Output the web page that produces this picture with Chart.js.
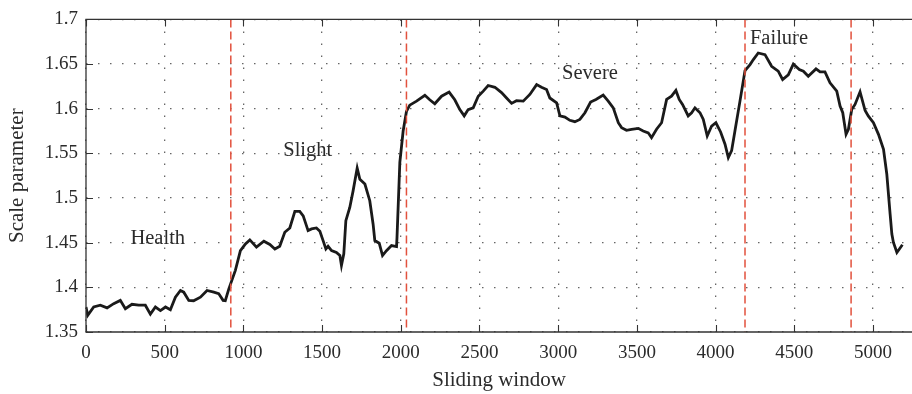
<!DOCTYPE html>
<html>
<head>
<meta charset="utf-8">
<script src="https://cdn.jsdelivr.net/npm/chart.js@4.4.1/dist/chart.umd.min.js"></script>
<style>
  html, body { margin: 0; padding: 0; background: #fff; }
  #wrap { width: 912px; height: 394px; }
</style>
</head>
<body>
<div id="wrap"><canvas id="chart" width="912" height="394"></canvas></div>
<script>
// Sliding-window index and the fitted scale parameter at each window
const windowIndex = [
  0, 11, 49, 91, 134, 176, 218, 250, 292, 335, 377, 409, 441, 473, 505, 536,
  568, 600, 621, 653, 684, 727, 769, 812, 843, 871, 885, 907, 949, 981, 1013,
  1041, 1083, 1130, 1168, 1200, 1231, 1263, 1295, 1327, 1358, 1380, 1411, 1433,
  1464, 1486, 1507, 1524, 1538, 1560, 1591, 1613, 1623, 1638, 1651, 1676, 1697,
  1723, 1740, 1772, 1803, 1824, 1835, 1863, 1884, 1909, 1941, 1973, 1976, 1994,
  2015, 2036, 2057, 2100, 2153, 2184, 2216, 2259, 2307, 2343, 2375, 2403, 2428,
  2460, 2492, 2524, 2555, 2598, 2640, 2672, 2704, 2735, 2778, 2820, 2863, 2894,
  2926, 2947, 2990, 3011, 3043, 3074, 3106, 3138, 3170, 3206, 3240, 3286, 3318,
  3350, 3382, 3403, 3434, 3466, 3509, 3540, 3572, 3593, 3625, 3657, 3689, 3720,
  3748, 3769, 3790, 3826, 3848, 3869, 3901, 3922, 3947, 3975, 4002, 4032, 4060,
  4081, 4102, 4123, 4155, 4187, 4219, 4240, 4271, 4314, 4356, 4398, 4426, 4462,
  4494, 4532, 4558, 4589, 4638, 4664, 4695, 4727, 4770, 4791, 4808, 4829, 4844,
  4865, 4886, 4918, 4950, 4971, 5003, 5035, 5067, 5088, 5109, 5120, 5130, 5152,
  5168, 5187
];
const scaleParam = [
  1.378, 1.3686, 1.378, 1.380, 1.377, 1.3817, 1.3854, 1.376, 1.381, 1.380, 1.380,
  1.370, 1.378, 1.374, 1.378, 1.375, 1.389, 1.3965, 1.3946, 1.3854, 1.385, 1.389,
  1.3965, 1.3946, 1.393, 1.3854, 1.385, 1.398, 1.419, 1.441, 1.4486,
  1.4531, 1.445, 1.4516, 1.448, 1.443, 1.446, 1.4617, 1.4665, 1.485, 1.485, 1.480,
  1.4635, 1.4654, 1.4665, 1.4628, 1.452, 1.443, 1.446, 1.4412, 1.439, 1.4356,
  1.4245, 1.4375, 1.4747, 1.4895, 1.508, 1.5335, 1.521, 1.5156, 1.497, 1.471,
  1.4524, 1.4494, 1.4356, 1.441, 1.4468, 1.4457, 1.456, 1.540,
  1.575, 1.597, 1.604, 1.6085, 1.615, 1.610, 1.6055, 1.614, 1.6186, 1.610, 1.599,
  1.592, 1.599, 1.601, 1.614, 1.6197, 1.626, 1.624, 1.618, 1.612, 1.606, 1.609,
  1.6085, 1.616, 1.627, 1.624, 1.6215, 1.612, 1.6067, 1.592, 1.5907, 1.587,
  1.5855, 1.588, 1.5955, 1.6075, 1.6104, 1.6152, 1.6085,
  1.601, 1.5843, 1.5788, 1.5758, 1.577, 1.578, 1.575, 1.573, 1.5676, 1.577,
  1.5843, 1.6104, 1.614, 1.6205, 1.6104, 1.6048, 1.592, 1.5955, 1.601, 1.5955,
  1.588, 1.5695, 1.5806, 1.5843, 1.574, 1.5602, 1.5453, 1.553, 1.575, 1.6085,
  1.6428, 1.6494, 1.655, 1.6624, 1.6605, 1.6475, 1.642, 1.6327, 1.638, 1.650,
  1.6438, 1.642, 1.6364, 1.6446, 1.6412, 1.6412, 1.629, 1.6197, 1.603, 1.5955,
  1.5713, 1.5769, 1.599, 1.6048, 1.6189, 1.598, 1.5917, 1.5843, 1.5713, 1.5545,
  1.5266, 1.482, 1.4597, 1.4503, 1.439, 1.443, 1.4477
];

// Axis ticks
const xTicks = [0, 500, 1000, 1500, 2000, 2500, 3000, 3500, 4000, 4500, 5000];
const yTicks = [1.35, 1.4, 1.45, 1.5, 1.55, 1.6, 1.65, 1.7];

// Degradation stages and the windows where one stage gives way to the next
const stageNames = ['Health', 'Slight', 'Severe', 'Failure'];
const stageBoundaries = [920, 2036, 4187, 4861];

// Where each stage name is written, in data coordinates
const stageLabelAnchors = [
  { x: 456, y: 1.4545 },
  { x: 1409, y: 1.5527 },
  { x: 3202, y: 1.6397 },
  { x: 4403, y: 1.6788 }
];

const FONT = '"Liberation Serif", "Times New Roman", serif';
const INK = '#2b2b2b';

// Frame (top/left/bottom) with inward-pointing tick marks
const framePlugin = {
  id: 'frame',
  afterDraw(chart) {
    const { ctx, chartArea: a, scales: { x, y } } = chart;
    ctx.save();
    ctx.strokeStyle = '#333';
    ctx.lineWidth = 1.3;
    ctx.beginPath();
    ctx.moveTo(a.right + 2, a.top);
    ctx.lineTo(a.left, a.top);
    ctx.lineTo(a.left, a.bottom);
    ctx.lineTo(a.right + 2, a.bottom);
    ctx.stroke();
    const len = 7;
    ctx.lineWidth = 1.1;
    ctx.beginPath();
    xTicks.forEach(v => {
      const px = Math.round(x.getPixelForValue(v)) + 0.5;
      ctx.moveTo(px, a.bottom); ctx.lineTo(px, a.bottom - len);
      ctx.moveTo(px, a.top); ctx.lineTo(px, a.top + len);
    });
    yTicks.forEach(v => {
      const py = Math.round(y.getPixelForValue(v)) + 0.5;
      ctx.moveTo(a.left, py); ctx.lineTo(a.left + len, py);
    });
    ctx.stroke();
    ctx.restore();
  }
};

// Stage boundaries (red dashed) and stage names
const stagePlugin = {
  id: 'stages',
  afterDatasetsDraw(chart) {
    const { ctx, chartArea: a, scales: { x, y } } = chart;
    ctx.save();
    ctx.strokeStyle = '#e2513d';
    ctx.lineWidth = 1.5;
    ctx.setLineDash([8, 4]);
    stageBoundaries.forEach(v => {
      const px = x.getPixelForValue(v);
      ctx.beginPath();
      ctx.moveTo(px, a.top);
      ctx.lineTo(px, a.bottom);
      ctx.stroke();
    });
    ctx.setLineDash([]);
    ctx.fillStyle = INK;
    ctx.font = '20.5px ' + FONT;
    ctx.textAlign = 'center';
    ctx.textBaseline = 'middle';
    stageNames.forEach((name, i) => {
      const p = stageLabelAnchors[i];
      ctx.fillText(name, x.getPixelForValue(p.x), y.getPixelForValue(p.y));
    });
    ctx.restore();
  }
};

const points = windowIndex.map((w, i) => ({ x: w, y: scaleParam[i] }));

new Chart(document.getElementById('chart'), {
  type: 'line',
  data: {
    datasets: [{
      data: points,
      borderColor: '#1a1a1a',
      borderWidth: 2.8,
      pointRadius: 0,
      tension: 0,
      fill: false
    }]
  },
  options: {
    responsive: false,
    animation: false,
    devicePixelRatio: 1,
    layout: { padding: { top: 18, right: 0, left: 0, bottom: 0 } },
    plugins: { legend: { display: false }, tooltip: { enabled: false } },
    scales: {
      x: {
        type: 'linear',
        min: 0,
        max: 5248,
        afterBuildTicks: s => { s.ticks = xTicks.map(v => ({ value: v })); },
        afterFit: s => { s.height = 62; },
        ticks: {
          color: INK,
          font: { family: FONT, size: 19 },
          padding: 10,
          maxRotation: 0,
          callback: v => String(v)
        },
        grid: { color: '#666', lineWidth: 1.3, drawTicks: false },
        border: { display: false, dash: [1.5, 10.5] },
        title: {
          display: true,
          text: 'Sliding window',
          color: INK,
          font: { family: FONT, size: 21 },
          padding: { top: 0, bottom: 1 }
        }
      },
      y: {
        type: 'linear',
        min: 1.35,
        max: 1.7,
        afterBuildTicks: s => { s.ticks = yTicks.map(v => ({ value: v })); },
        afterFit: s => { s.width = 86; },
        ticks: {
          color: INK,
          font: { family: FONT, size: 19 },
          padding: 8,
          callback: v => String(+v.toFixed(2))
        },
        grid: { color: '#666', lineWidth: 1.3, drawTicks: false },
        border: { display: false, dash: [1.5, 10.5] },
        title: {
          display: true,
          text: 'Scale parameter',
          color: INK,
          font: { family: FONT, size: 21 },
          padding: { top: 5, bottom: 0 }
        }
      }
    }
  },
  plugins: [framePlugin, stagePlugin]
});
</script>
</body>
</html>
